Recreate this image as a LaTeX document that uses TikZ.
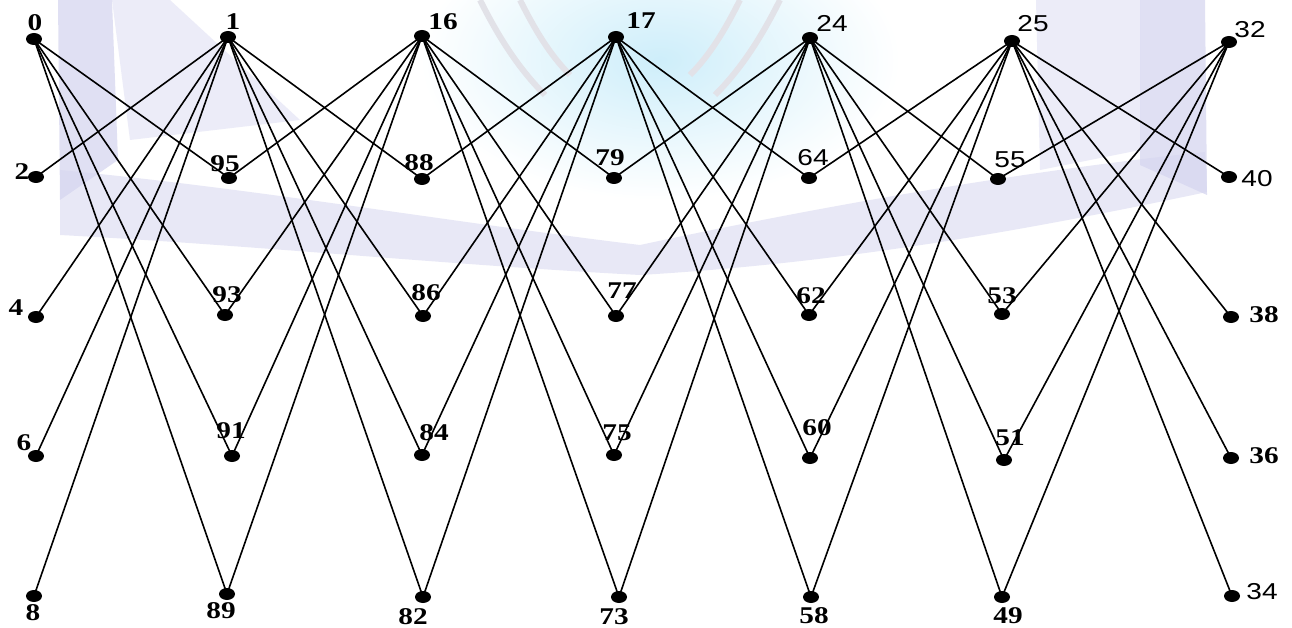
\documentclass[tikz,border=0pt]{standalone}
\usepackage{fontspec}
\setmainfont{Liberation Serif}
\newfontfamily\labsans{Liberation Sans}
\usetikzlibrary{shapes.geometric}
\definecolor{wmlav}{RGB}{214,214,240}
\definecolor{wmlavlight}{RGB}{232,232,247}
\definecolor{wmcyan}{RGB}{206,238,250}
\definecolor{wmgrey}{RGB}{226,226,232}
\pgfdeclarelayer{wm}
\pgfdeclarelayer{edges}
\pgfsetlayers{wm,edges,main}
\newcommand\stretchlab[1]{\scalebox{1.22}[1]{#1}}
\tikzset{
  dot/.style={ellipse, fill=black, minimum width=16pt, minimum height=12pt, inner sep=0pt},
  edge/.style={black, line width=1.6pt},
  lab/.style={inner sep=0pt, font=\fontsize{24}{24}\selectfont\bfseries},
  labs/.style={inner sep=0pt, font=\fontsize{23}{23}\selectfont\labsans},
}
\begin{document}
\begin{tikzpicture}[x=1pt, y=-1pt]
\useasboundingbox (0,0) rectangle (1292,628);

% faint book watermark behind the graph
\begin{pgfonlayer}{wm}
  \fill[white] (0,0) rectangle (1292,628);
  \shade[inner color=wmcyan, outer color=white] (660,60) ellipse [x radius=240, y radius=140];
  \fill[wmlavlight, opacity=0.8] (112,0) -- (170,0) -- (300,120) -- (130,140) -- cycle;
  \fill[wmlavlight, opacity=0.8] (1036,0) -- (1140,0) -- (1140,150) -- (1040,170) -- cycle;
  \fill[wmlav, opacity=0.75] (58,0) -- (112,0) -- (118,160) -- (60,200) -- cycle;
  \fill[wmlav, opacity=0.75] (1140,0) -- (1205,0) -- (1207,195) -- (1140,165) -- cycle;
  \fill[wmlav, opacity=0.55] (60,170) .. controls (250,188) and (450,222) .. (640,245)
     .. controls (850,200) and (1050,168) .. (1205,152) -- (1207,192)
     .. controls (1050,225) and (860,262) .. (640,275)
     .. controls (450,265) and (250,245) .. (60,235) -- cycle;
  \draw[wmgrey, line width=6pt] (480,0) .. controls (500,40) and (520,70) .. (545,95);
  \draw[wmgrey, line width=6pt] (520,0) .. controls (535,30) and (550,55) .. (570,75);
  \draw[wmgrey, line width=6pt] (780,0) .. controls (760,40) and (740,70) .. (715,95);
  \draw[wmgrey, line width=6pt] (740,0) .. controls (725,30) and (710,55) .. (690,75);
\end{pgfonlayer}

% vertices
\node[dot] (n0)  at (34,39)  {};
\node[dot] (n1)  at (228,37) {};
\node[dot] (n16) at (422,36) {};
\node[dot] (n17) at (616,37) {};
\node[dot] (n24) at (810,38) {};
\node[dot] (n25) at (1012,41) {};
\node[dot] (n32) at (1229,42) {};

\node[dot] (n2)  at (36,177)  {};
\node[dot] (n95) at (229,178) {};
\node[dot] (n88) at (422,179) {};
\node[dot] (n79) at (614,178) {};
\node[dot] (n64) at (809,178) {};
\node[dot] (n55) at (998,179) {};
\node[dot] (n40) at (1229,177) {};

\node[dot] (n4)  at (36,317)  {};
\node[dot] (n93) at (225,315) {};
\node[dot] (n86) at (423,316) {};
\node[dot] (n77) at (616,316) {};
\node[dot] (n62) at (809,315) {};
\node[dot] (n53) at (1002,314) {};
\node[dot] (n38) at (1231,317) {};

\node[dot] (n6)  at (36,456)  {};
\node[dot] (n91) at (232,456) {};
\node[dot] (n84) at (422,455) {};
\node[dot] (n75) at (614,455) {};
\node[dot] (n60) at (810,458) {};
\node[dot] (n51) at (1004,460) {};
\node[dot] (n36) at (1231,458) {};

\node[dot] (n8)  at (34,596)  {};
\node[dot] (n89) at (227,594) {};
\node[dot] (n82) at (423,597) {};
\node[dot] (n73) at (619,597) {};
\node[dot] (n58) at (811,597) {};
\node[dot] (n49) at (1002,597) {};
\node[dot] (n34) at (1232,596) {};

% vertex labels
\node[lab]  (l0)  at (35,23)   {\stretchlab{0}};
\node[lab]  (l1)  at (233,22)  {\stretchlab{1}};
\node[lab]  (l16) at (443,22)  {\stretchlab{16}};
\node[lab]  (l17) at (641,21)  {\stretchlab{17}};
\node[labs] (l24) at (832,23)  {\stretchlab{24}};
\node[labs] (l25) at (1033,24) {\stretchlab{25}};
\node[labs] (l32) at (1250,30) {\stretchlab{32}};

\node[lab]  (l2)  at (22,172)  {\stretchlab{2}};
\node[lab]  (l95) at (225,164) {\stretchlab{95}};
\node[lab]  (l88) at (419,163) {\stretchlab{88}};
\node[lab]  (l79) at (610,158) {\stretchlab{79}};
\node[labs] (l64) at (813,158) {\stretchlab{64}};
\node[labs] (l55) at (1010,160) {\stretchlab{55}};
\node[labs] (l40) at (1257,179) {\stretchlab{40}};

\node[lab]  (l4)  at (16,308)  {\stretchlab{4}};
\node[lab]  (l93) at (227,295) {\stretchlab{93}};
\node[lab]  (l86) at (426,293) {\stretchlab{86}};
\node[lab]  (l77) at (622,291) {\stretchlab{77}};
\node[lab]  (l62) at (811,296) {\stretchlab{62}};
\node[lab]  (l53) at (1002,296) {\stretchlab{53}};
\node[lab]  (l38) at (1264,315) {\stretchlab{38}};

\node[lab]  (l6)  at (24,443)  {\stretchlab{6}};
\node[lab]  (l91) at (231,431) {\stretchlab{91}};
\node[lab]  (l84) at (434,433) {\stretchlab{84}};
\node[lab]  (l75) at (617,433) {\stretchlab{75}};
\node[lab]  (l60) at (817,428) {\stretchlab{60}};
\node[lab]  (l51) at (1010,438) {\stretchlab{51}};
\node[lab]  (l36) at (1264,456) {\stretchlab{36}};

\node[lab]  (l8)  at (33,613)  {\stretchlab{8}};
\node[lab]  (l89) at (221,611) {\stretchlab{89}};
\node[lab]  (l82) at (413,617) {\stretchlab{82}};
\node[lab]  (l73) at (614,617) {\stretchlab{73}};
\node[lab]  (l58) at (814,616) {\stretchlab{58}};
\node[lab]  (l49) at (1008,616) {\stretchlab{49}};
\node[labs] (l34) at (1262,592) {\stretchlab{34}};

% edges, each top vertex to its neighbours below
\begin{pgfonlayer}{edges}
\foreach \s/\ts in {
    n0/{n95,n93,n91,n89},
    n1/{n2,n4,n6,n8,n88,n86,n84,n82},
    n16/{n95,n93,n91,n89,n79,n77,n75,n73},
    n17/{n88,n86,n84,n82,n64,n62,n60,n58},
    n24/{n79,n77,n75,n73,n55,n53,n51,n49},
    n25/{n64,n62,n60,n58,n40,n38,n36,n34},
    n32/{n55,n53,n51,n49}}
  \foreach \t in \ts
    \draw[edge] (\s.center) -- (\t.center);
\end{pgfonlayer}
\end{tikzpicture}
\end{document}
